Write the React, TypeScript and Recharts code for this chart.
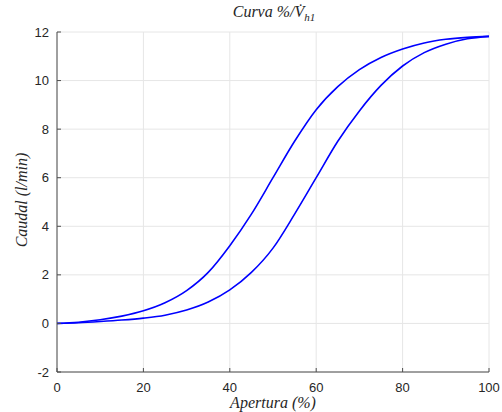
import React from "react";
import {
  LineChart,
  Line,
  XAxis,
  YAxis,
  CartesianGrid,
  Customized,
} from "recharts";

// Apertura (%) sampled every 5 %
const APERTURA = [0, 5, 10, 15, 20, 25, 30, 35, 40, 45, 50, 55, 60, 65, 70, 75, 80, 85, 90, 95, 100];
// upper branch (curve to the left)
const CAUDAL_ALTO = [0, 0.05, 0.15, 0.3, 0.52, 0.85, 1.35, 2.1, 3.2, 4.5, 6.0, 7.5, 8.8, 9.75, 10.45, 10.95, 11.3, 11.55, 11.7, 11.78, 11.82];
// lower branch (curve to the right)
const CAUDAL_BAJO = [0, 0.03, 0.08, 0.14, 0.22, 0.34, 0.55, 0.88, 1.38, 2.1, 3.1, 4.5, 6.0, 7.5, 8.75, 9.8, 10.6, 11.15, 11.5, 11.72, 11.82];
const X_TICKS = [0, 20, 40, 60, 80, 100];
const Y_TICKS = [-2, 0, 2, 4, 6, 8, 10, 12];

const data = APERTURA.map((x, i) => ({
  x,
  alto: CAUDAL_ALTO[i],
  bajo: CAUDAL_BAJO[i],
}));

const serif = "'Liberation Serif', 'Times New Roman', serif";
const tickStyle = { fontFamily: "'Liberation Sans', Arial, sans-serif", fontSize: 13, fill: "#262626" };

const Labels = () => (
  <g fontFamily={serif} fontStyle="italic" fill="#262626">
    <text x={274} y={17} fontSize={16} textAnchor="middle">
      Curva %/V&#775;<tspan fontSize={11} dy={4}>h1</tspan>
    </text>
    <text x={273} y={408} fontSize={16} textAnchor="middle">
      Apertura (%)
    </text>
    <text
      x={27}
      y={200}
      fontSize={16}
      textAnchor="middle"
      transform="rotate(-90 27 200)"
    >
      Caudal (l/min)
    </text>
  </g>
);

export default function App() {
  return (
    <div style={{ position: "absolute", left: 0, top: 0, background: "#fff" }}>
      <LineChart
        width={502}
        height={412}
        data={data}
        margin={{ top: 32, right: 13, bottom: 0, left: 0 }}
      >
        <CartesianGrid stroke="#e6e6e6" />
        <XAxis
          dataKey="x"
          type="number"
          domain={[0, 100]}
          ticks={X_TICKS}
          height={40}
          stroke="#4d4d4d"
          tickSize={-4}
          tickMargin={15}
          tick={tickStyle}
          interval={0}
        />
        <YAxis
          type="number"
          domain={[-2, 12]}
          ticks={Y_TICKS}
          width={57}
          stroke="#4d4d4d"
          tickSize={-4}
          tickMargin={12}
          tick={tickStyle}
          interval={0}
        />
        <Line
          dataKey="alto"
          type="monotone"
          stroke="#0000ff"
          strokeWidth={1.6}
          dot={false}
          isAnimationActive={false}
        />
        <Line
          dataKey="bajo"
          type="monotone"
          stroke="#0000ff"
          strokeWidth={1.6}
          dot={false}
          isAnimationActive={false}
        />
        <Customized component={Labels} />
      </LineChart>
    </div>
  );
}
